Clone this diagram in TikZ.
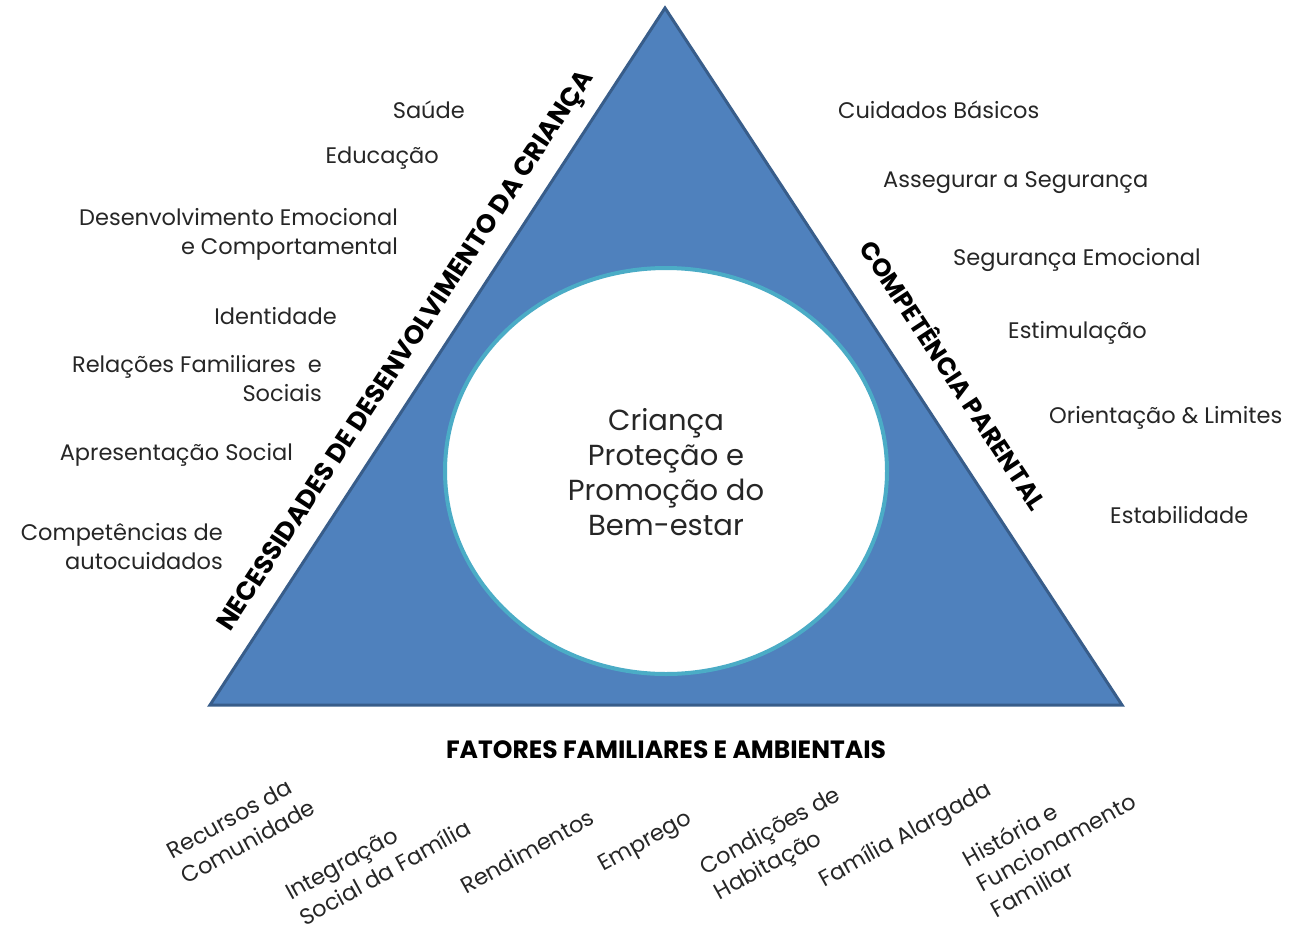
\documentclass[tikz,border=0pt]{standalone}
\usepackage{fontspec}
\usetikzlibrary{shapes.geometric}
\setmainfont{Poppins}
\begin{document}
\begin{tikzpicture}[x=1pt,y=-1pt,
  item/.style={font=\fontsize{22.5}{29}\selectfont, text=black!85, inner sep=0pt},
  itemL/.style={item, anchor=east, align=right},
  itemR/.style={item, anchor=west, align=left},
  itemB/.style={item, anchor=center, align=left, rotate=29},
  side/.style={font=\bfseries\fontsize{25}{28}\selectfont, text=black, inner sep=0pt},
  centertext/.style={font=\fontsize{29}{35}\selectfont, text=black!85, align=center}]
\useasboundingbox (0,0) rectangle (1293,927);
% outer triangle and inner circle
\coordinate (apex) at (665,8);
\coordinate (bl) at (210,705);
\coordinate (br) at (1122,705);
\draw[line width=3pt, draw={rgb,255:red,56;green,93;blue,138}, fill={rgb,255:red,79;green,129;blue,189}, line join=miter]
  (apex) -- (bl) -- (br) -- cycle;
\node[ellipse, minimum width=442pt, minimum height=406pt, draw={rgb,255:red,75;green,172;blue,198}, line width=4pt, fill=white] (core) at (666,471) {};
\node[centertext] (coretext) at (666,472) {Criança\\Proteção e\\Promoção do\\Bem-estar};

% side titles
\node[side, font=\bfseries\fontsize{26}{28}\selectfont, rotate=56.8] (needs) at (407,352) {NECESSIDADES DE DESENVOLVIMENTO DA CRIANÇA};
\node[side, rotate=-56.7] (parent) at (955,374) {COMPETÊNCIA PARENTAL};
\node[side] (factors) at (666,750) {FATORES FAMILIARES E AMBIENTAIS};

% child development needs
\node[itemL] (n1) at (465,110) {Saúde};
\node[itemL] (n2) at (439,158) {Educação};
\node[itemL] (n3) at (398,234) {Desenvolvimento Emocional\\e Comportamental};
\node[itemL] (n4) at (337,316) {Identidade};
\node[itemL] (n5) at (322,379) {Relações Familiares \ e\\Sociais};
\node[itemL] (n6) at (293,455) {Apresentação Social};
\node[itemL] (n7) at (223,547) {Competências de\\autocuidados};

% parenting capacity
\node[itemR] (p1) at (838,110) {Cuidados Básicos};
\node[itemR] (p2) at (883,183) {Assegurar a Segurança};
\node[itemR] (p3) at (953,260) {Segurança Emocional};
\node[itemR] (p4) at (1008,333) {Estimulação};
\node[itemR] (p5) at (1049,418) {Orientação \& Limites};
\node[itemR] (p6) at (1110,515) {Estabilidade};

% family and environmental factors
\node[itemB] (f1) at (241,829) {Recursos da\\Comunidade};
\node[itemB] (f2) at (378,860) {Integração\\Social da Família};
\node[itemB] (f3) at (527,851) {Rendimentos};
\node[itemB] (f4) at (646,843) {Emprego};
\node[itemB] (f5) at (778,845) {Condições de\\Habitação};
\node[itemB] (f6) at (906,836) {Família Alargada};
\node[itemB] (f7) at (1056,842) {História e\\Funcionamento\\Familiar};
\end{tikzpicture}
\end{document}
